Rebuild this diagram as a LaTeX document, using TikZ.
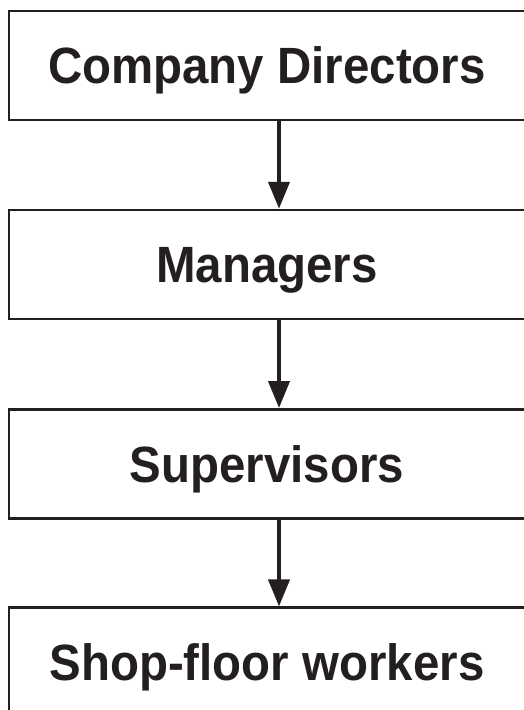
\documentclass[tikz,border=0pt]{standalone}
\usepackage{fontspec}
\setmainfont{Liberation Sans}
\newfontfamily\rankfont[FakeStretch=0.93]{Liberation Sans}
\usetikzlibrary{arrows.meta}
\definecolor{ink}{RGB}{35,31,32}
\tikzset{
  rank/.style={draw=ink,line width=2.5pt,minimum width=516pt,minimum height=109pt,
    text=ink,font=\rankfont\fontsize{51}{60}\selectfont\bfseries,text height=36.5pt,text depth=0pt,inner sep=0pt},
  down/.style={draw=ink,line width=4pt,-{Triangle[length=27pt,width=21pt]}}
}
\begin{document}
\begin{tikzpicture}[x=1pt,y=-1pt]
  \useasboundingbox (0,0) rectangle (523,710);
  \node[rank] (cd) at (267,65.7) {Company Directors};
  \node[rank] (mg) at (267,264.5) {Managers};
  \node[rank] (sv) at (267,463.8) {Supervisors};
  \node[rank] (sw) at (267,662.2) {Shop-floor workers};
  \draw[down] ([xshift=12pt]cd.south) -- ([xshift=12pt]mg.north);
  \draw[down] ([xshift=12pt]mg.south) -- ([xshift=12pt]sv.north);
  \draw[down] ([xshift=12pt]sv.south) -- ([xshift=12pt]sw.north);
\end{tikzpicture}
\end{document}
